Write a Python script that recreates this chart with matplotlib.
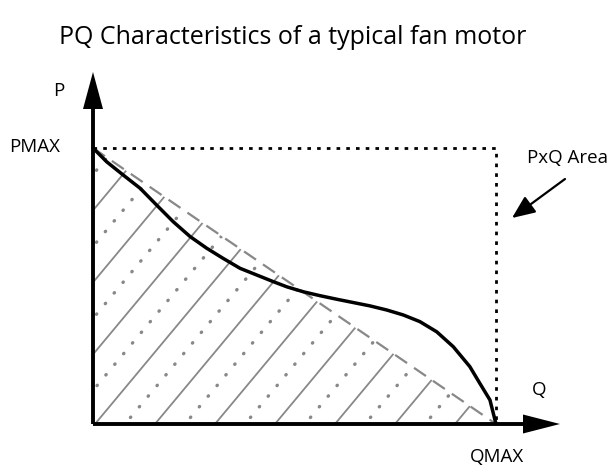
import numpy as np
import matplotlib
matplotlib.use("Agg")
import matplotlib.pyplot as plt
from matplotlib.patches import Polygon

# ---- data (normalised Q and P, 0..1) ----
curve_q = [0.0, 0.034, 0.075, 0.117, 0.158, 0.199, 0.241, 0.282, 0.323, 0.365, 0.406, 0.447,
           0.481, 0.522, 0.563, 0.605, 0.646, 0.687, 0.729, 0.770, 0.811, 0.853, 0.894, 0.935,
           0.960, 0.985, 1.0]
curve_p = [1.0, 0.950, 0.902, 0.854, 0.793, 0.733, 0.679, 0.637, 0.600, 0.564, 0.540, 0.516,
           0.497, 0.479, 0.465, 0.452, 0.440, 0.428, 0.413, 0.395, 0.371, 0.334, 0.280, 0.208,
           0.147, 0.087, 0.0]
pmax, qmax = 1.0, 1.0
title = "PQ Characteristics of a typical fan motor"
labels = {"P": "P", "PMAX": "PMAX", "Q": "Q", "QMAX": "QMAX", "area": "PxQ Area"}

W, H = 611, 468
x0, y0 = 93, 424          # origin in pixels
sx, sy = 403, 276         # pixels per unit

fig = plt.figure(figsize=(W / 100, H / 100), dpi=100)
ax = fig.add_axes([0, 0, 1, 1])
ax.set_xlim(-x0 / sx, (W - x0) / sx)
ax.set_ylim(-(H - y0) / sy, y0 / sy)
ax.axis("off")

FONT = "Open Sans"
gray = "#888888"

def px(dx):  # pixel lengths to data units
    return dx / sx
def py(dy):
    return dy / sy

# hatch clip triangle
tri = Polygon([[0, 0], [0, pmax], [qmax, 0]], closed=True, facecolor="none", edgecolor="none")
ax.add_patch(tri)

slope = 1.2 * sx / sy
spacing = px(60)
start = px(2)
for k in range(-12, 12):
    q0 = start + k * spacing
    qs = np.array([q0, q0 + 2])
    ps = slope * (qs - q0)
    ln, = ax.plot(qs, ps, color=gray, lw=1.3, solid_capstyle="butt")
    ln.set_clip_path(tri)
    qd = q0 + spacing / 2
    ps2 = slope * (qs - qd)
    ld, = ax.plot(qs, ps2, color=gray, lw=2.4, linestyle=(0, (0.15, 4.0)),
                  dash_capstyle="round")
    ld.set_clip_path(tri)

# dashed diagonal
ax.plot([0, qmax], [pmax, 0], color=gray, lw=1.6, linestyle=(0, (6.5, 3.8)))

# dotted rectangle
ax.plot([0, qmax, qmax], [pmax, pmax, 0], color="black", lw=2.0,
        linestyle=(0, (1.3, 2.2)), dash_capstyle="butt")

# curve
ax.plot(curve_q, curve_p, color="black", lw=2.5, solid_capstyle="round",
        solid_joinstyle="round")

# axes arrows
ax.plot([0, 0], [0, py(424 - 108)], color="black", lw=2.8, solid_capstyle="butt")
ax.plot([0, px(525 - 93)], [0, 0], color="black", lw=2.8, solid_capstyle="butt")
ax.add_patch(Polygon([[px(-10), py(424 - 109)], [px(10), py(424 - 109)], [0, py(424 - 72)]],
                     closed=True, color="black", lw=0))
ax.add_patch(Polygon([[px(523 - 93), py(9.5)], [px(523 - 93), py(-9.5)], [px(560 - 93), 0]],
                     closed=True, color="black", lw=0))

# PxQ arrow
tail = (px(565 - 93), py(424 - 179))
tip = (px(512 - 93), py(424 - 218))
ax.annotate("", xy=tip, xytext=tail,
            arrowprops=dict(arrowstyle="-|>,head_length=1.4,head_width=0.6",
                            color="black", lw=1.6, shrinkA=0, shrinkB=0))

# texts
fs = 13.5
ax.text(px(293 - 93), py(424 - 38), title, ha="center", va="center", fontsize=18, family=FONT)
ax.text(px(59 - 93), py(424 - 91), labels["P"], ha="center", va="center", fontsize=fs, family=FONT)
ax.text(px(35 - 93), py(424 - 147), labels["PMAX"], ha="center", va="center", fontsize=fs, family=FONT)
ax.text(px(568 - 93), py(424 - 158), labels["area"], ha="center", va="center", fontsize=fs, family=FONT)
ax.text(px(539 - 93), py(424 - 390), labels["Q"], ha="center", va="center", fontsize=fs, family=FONT)
ax.text(px(497 - 93), py(424 - 457), labels["QMAX"], ha="center", va="center", fontsize=fs, family=FONT)

fig.savefig("out.png", dpi=100)
